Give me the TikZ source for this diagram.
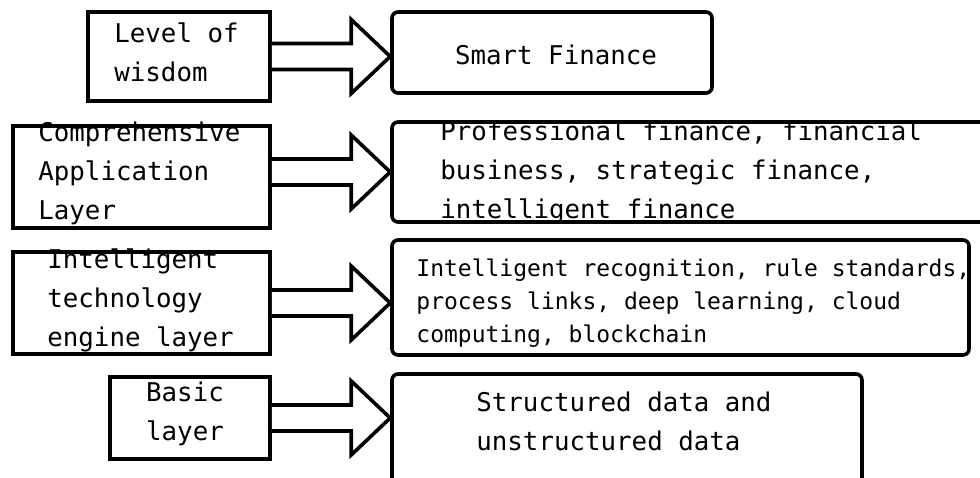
\documentclass[tikz,border=0pt]{standalone}
\usepackage{fontspec}
\newfontfamily\boxfont{DejaVu Sans Mono}
\usepackage{tikz}
\usetikzlibrary{calc, positioning}

\begin{document}
\begin{tikzpicture}[x=0.5pt, y=-0.5pt,
        lbox/.style={draw, line width=1.8pt, inner sep=0pt},
        rbox/.style={draw, line width=1.8pt, rounded corners=3pt, inner sep=0pt},
        txt/.style={inner sep=0pt, align=left, font=\boxfont\fontsize{12.9}{19.5}\selectfont},
        bigarrow/.style={draw, line width=1.8pt, fill=white}]
        \fill[white] (0,0) rectangle (980,477);
        \useasboundingbox (0,0) rectangle (980,477);
        % layers on the left
        \node[lbox, minimum width=91pt, minimum height=44.5pt] (l1) at (179,56.5) {};
        \node[lbox, minimum width=128.5pt, minimum height=51pt] (l2) at (141.5,177) {};
        \node[lbox, minimum width=128.5pt, minimum height=51pt] (l3) at (141.5,303) {};
        \node[lbox, minimum width=80pt, minimum height=41pt] (l4) at (190,418) {};
        % contents on the right
        \node[rbox, minimum width=160pt, minimum height=40.5pt] (r1) at (552,52.5) {};
        \node[rbox, minimum width=301.5pt, minimum height=50pt] (r2) at (693.5,172) {};
        \node[rbox, minimum width=288.5pt, minimum height=57.5pt] (r3) at (680.5,297.5) {};
        \node[rbox, minimum width=235pt, minimum height=56.5pt] (r4) at (627,430.5) {};
        % block arrows, the second one sits a little higher
        \foreach \i/\dy in {1/0,2/-5,3/0,4/0}
            \draw[bigarrow] ($(l\i.east)+(0,\dy-13)$) -- ($(l\i.east -| r\i.west)+(-39,\dy-13)$)
                -- ++(0,-24) -- ($(l\i.east -| r\i.west)+(0,\dy)$) -- ++(-39,37) -- ++(0,-24)
                -- ($(l\i.east)+(0,\dy+13)$);
        % labels
        \node[txt, anchor=west] (t1) at (114,52) {Level of\\wisdom};
        \node[txt, anchor=west] (t2) at (38,173) {Comprehensive\\Application\\Layer};
        \node[txt, anchor=west] (t3) at (47,300) {Intelligent\\technology\\engine layer};
        \node[txt, align=center] (t4) at (185,414) {Basic\\layer};
        \node[txt] (u1) at (556,55) {Smart Finance};
        \node[txt, anchor=west] (u2) at (440,172) {Professional finance, financial\\business, strategic finance,\\intelligent finance};
        \node[txt, anchor=west, font=\boxfont\fontsize{11.5}{16.5}\selectfont] (u3) at (416,303) {Intelligent recognition, rule standards,\\process links, deep learning, cloud\\computing, blockchain};
        \node[txt, anchor=west] (u4) at (476,421.5) {Structured data and\\unstructured data};
\end{tikzpicture}
\end{document}
